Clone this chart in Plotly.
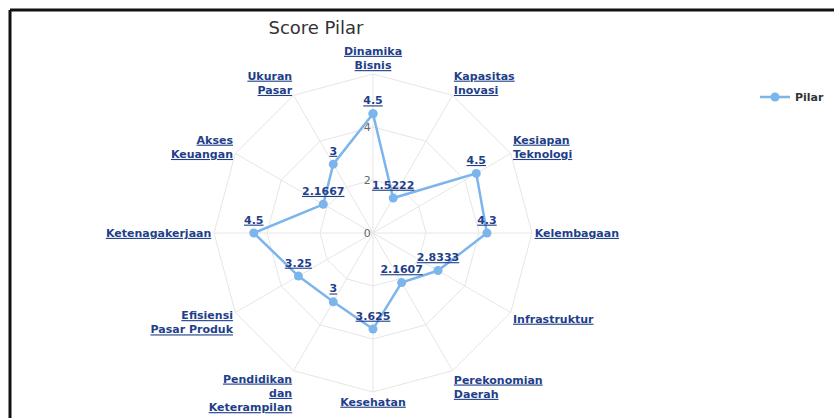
import plotly.graph_objects as go

categories = ["Dinamika<br>Bisnis", "Kapasitas<br>Inovasi", "Kesiapan<br>Teknologi", "Kelembagaan",
              "Infrastruktur", "Perekonomian<br>Daerah", "Kesehatan", "Pendidikan<br>dan<br>Keterampilan",
              "Efisiensi<br>Pasar Produk", "Ketenagakerjaan", "Akses<br>Keuangan", "Ukuran<br>Pasar"]
values = [4.5, 1.5222, 4.5, 4.3, 2.8333, 2.1607, 3.625, 3, 3.25, 4.5, 2.1667, 3]
value_labels = ["4.5", "1.5222", "4.5", "4.3", "2.8333", "2.1607", "3.625", "3", "3.25", "4.5", "2.1667", "3"]
series_name = "Pilar"
radial_ticks = [0, 2, 4, 6]

cat_ids = [c.replace("<br>", " ") for c in categories]
tick_text = ["<br>".join("<b><u>%s</u></b>" % part for part in c.split("<br>")) for c in categories]

fig = go.Figure()
fig.add_trace(go.Scatterpolar(
    r=values + [values[0]],
    theta=cat_ids + [cat_ids[0]],
    mode="lines+markers+text",
    name=series_name,
    text=["<b><u>%s</u></b>" % t for t in value_labels] + [""],
    textposition="top center",
    textfont=dict(family="DejaVu Sans", size=11, color="#1f3f8a"),
    line=dict(color="#7cb5ec", width=2.5),
    marker=dict(color="#7cb5ec", size=9),
    cliponaxis=False,
))

H = 418
W = 834
top_px, bot_px = 74, 392
cx = 373
rad = (bot_px - top_px) / 2

fig.update_layout(
    width=W, height=H,
    margin=dict(l=0, r=0, t=0, b=0),
    paper_bgcolor="white",
    font=dict(family="DejaVu Sans", color="#333"),
    title=dict(text="Score Pilar", x=316 / W, y=1 - 28 / H, xanchor="center", yanchor="middle",
               font=dict(family="DejaVu Sans", size=18, color="#333333")),
    polar=dict(
        domain=dict(x=[(cx - rad) / W, (cx + rad) / W], y=[1 - bot_px / H, 1 - top_px / H]),
        bgcolor="white",
        gridshape="linear",
        angularaxis=dict(
            direction="clockwise", rotation=90,
            categoryorder="array", categoryarray=cat_ids,
            tickmode="array", tickvals=cat_ids, ticktext=tick_text,
            tickfont=dict(family="DejaVu Sans", size=11, color="#1f3f8a"),
            showline=True, linecolor="#e6e6e6", linewidth=1,
            gridcolor="#e6e6e6", ticks="",
        ),
        radialaxis=dict(
            range=[0, 6], tickvals=radial_ticks, ticktext=["0", "2", "4", ""],
            angle=90, tickangle=90, side="counterclockwise", showline=False, ticks="",
            gridcolor="#e6e6e6", tickfont=dict(family="DejaVu Sans", size=11, color="#666666"),
        ),
    ),
    showlegend=True,
    legend=dict(x=755 / W, y=1 - 97 / H, xanchor="left", yanchor="middle",
                font=dict(family="DejaVu Sans", size=11, color="#333333", weight="bold"),
                bgcolor="rgba(0,0,0,0)"),
    shapes=[
        dict(type="line", xref="paper", yref="paper", x0=10 / W, x1=1, y0=1 - 10 / H, y1=1 - 10 / H,
             line=dict(color="#111", width=3)),
        dict(type="line", xref="paper", yref="paper", x0=10 / W, x1=10 / W, y0=0, y1=1 - 10 / H,
             line=dict(color="#111", width=3)),
    ],
)

fig.write_html("out.html", config={"displayModeBar": False},
               post_script="document.body.style.margin='0';document.body.style.overflow='hidden';")
